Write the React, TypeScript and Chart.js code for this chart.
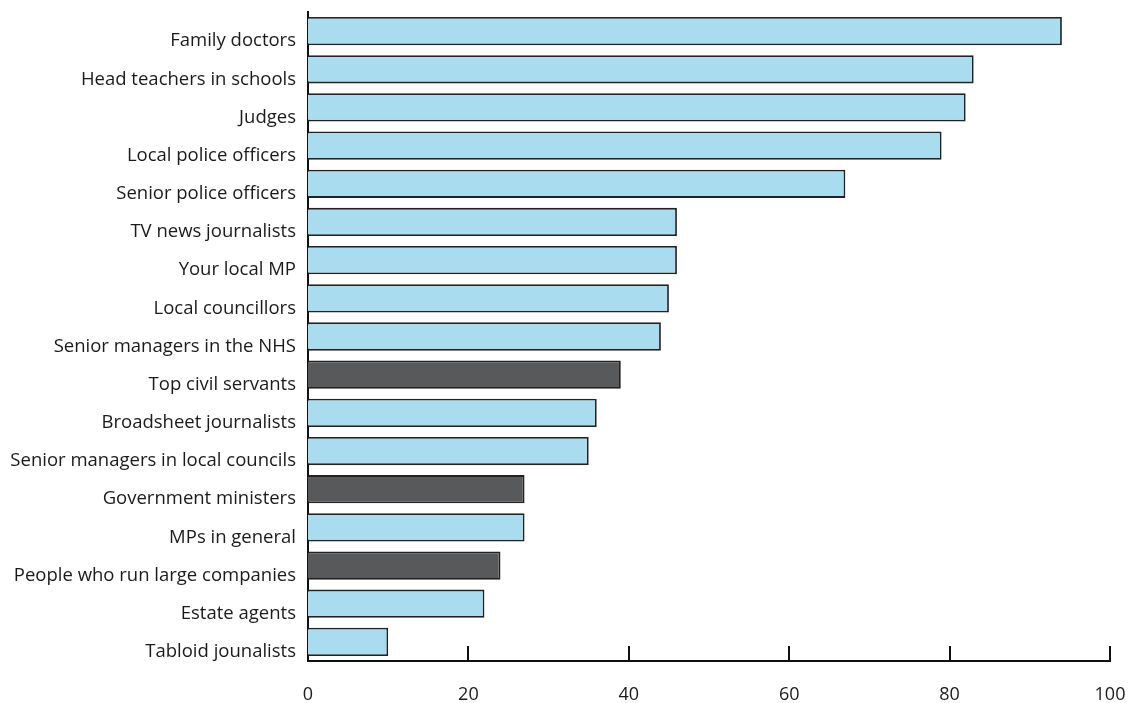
import React, { useEffect, useRef } from "react";
import { Chart, registerables } from "chart.js";

Chart.register(...registerables);

const categories = [
  "Family doctors",
  "Head teachers in schools",
  "Judges",
  "Local police officers",
  "Senior police officers",
  "TV news journalists",
  "Your local MP",
  "Local councillors",
  "Senior managers in the NHS",
  "Top civil servants",
  "Broadsheet journalists",
  "Senior managers in local councils",
  "Government ministers",
  "MPs in general",
  "People who run large companies",
  "Estate agents",
  "Tabloid jounalists",
];

const values = [94, 83, 82, 79, 67, 46, 46, 45, 44, 39, 36, 35, 27, 27, 24, 22, 10];

const highlighted = [
  "Top civil servants",
  "Government ministers",
  "People who run large companies",
];

const xTicks = [0, 20, 40, 60, 80, 100];

const LIGHT = "#a8dcee";
const DARK = "#58595b";
const FONT = "'Open Sans', 'Noto Sans', sans-serif";

const innerTicks = {
  id: "innerTicks",
  afterDraw(chart: any) {
    const { ctx, scales, chartArea } = chart;
    const x = scales.x;
    ctx.save();
    ctx.strokeStyle = "#111";
    ctx.lineWidth = 2;
    xTicks.forEach((t) => {
      if (t === 0) return;
      const px = Math.round(x.getPixelForValue(t));
      ctx.beginPath();
      ctx.moveTo(px, chartArea.bottom);
      ctx.lineTo(px, chartArea.bottom - 15);
      ctx.stroke();
    });
    ctx.restore();
  },
};

export default function App() {
  const ref = useRef<HTMLCanvasElement>(null);

  useEffect(() => {
    document.body.style.margin = "0";
    const chart = new Chart(ref.current!, {
      type: "bar",
      data: {
        labels: categories,
        datasets: [
          {
            data: values,
            backgroundColor: categories.map((c) => (highlighted.includes(c) ? DARK : LIGHT)),
            borderColor: "#222",
            borderWidth: 1.8,
            borderSkipped: "start",
            categoryPercentage: 0.74,
            barPercentage: 1,
          },
        ],
      },
      options: {
        indexAxis: "y",
        animation: false,
        responsive: false,
        maintainAspectRatio: false,
        layout: { padding: 0 },
        plugins: { legend: { display: false }, tooltip: { enabled: false } },
        scales: {
          x: {
            min: 0,
            max: 100,
            afterBuildTicks: (s: any) => {
              s.ticks = xTicks.map((v) => ({ value: v }));
            },
            afterFit: (s: any) => {
              s.height = 42;
              s.paddingLeft = 0;
              s.paddingRight = 20;
            },
            grid: { display: false, drawTicks: false },
            border: { display: true, color: "#111", width: 2 },
            ticks: {
              color: "#1a1a1a",
              font: { family: FONT, size: 18 },
              padding: 23,
              maxRotation: 0,
            },
          },
          y: {
            afterFit: (s: any) => {
              s.width = 308;
              s.paddingTop = 12;
              s.paddingBottom = 0;
            },
            grid: { display: false, drawTicks: false },
            border: { display: true, color: "#111", width: 2 },
            ticks: {
              color: "#1a1a1a",
              font: { family: FONT, size: 18.5 },
              padding: 12,
              labelOffset: 10,
            },
          },
        },
      },
      plugins: [innerTicks],
    });
    return () => chart.destroy();
  }, []);

  return <canvas ref={ref} width={1130} height={703} style={{ display: "block" }} />;
}
